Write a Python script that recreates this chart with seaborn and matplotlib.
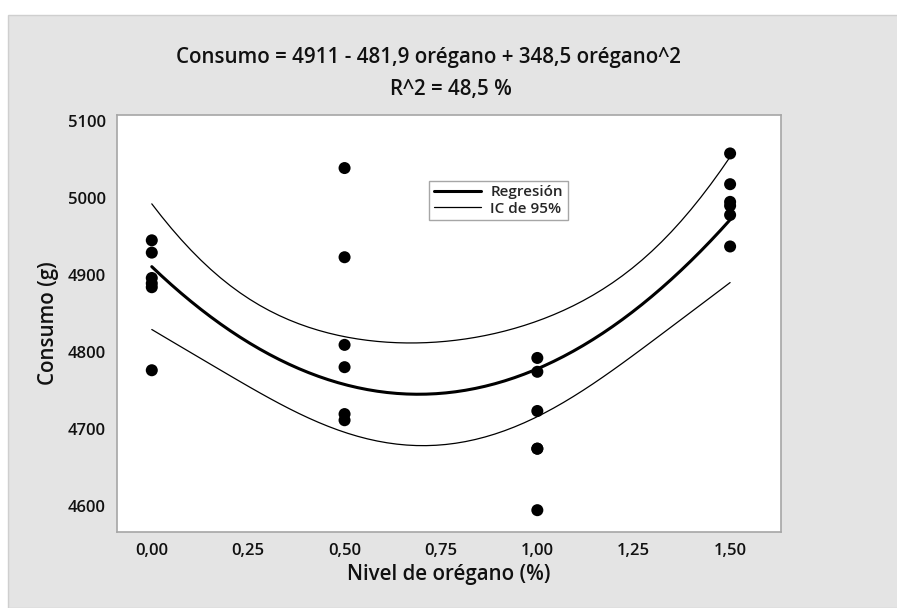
import numpy as np
import pandas as pd
import matplotlib
matplotlib.use("Agg")
import matplotlib.pyplot as plt
import seaborn as sns
from matplotlib.lines import Line2D
from matplotlib.patches import Rectangle

# ---- data ----
oregano = [0.0]*6 + [0.5]*6 + [1.0]*6 + [1.5]*6
consumo = [4945, 4929, 4896, 4889, 4884, 4776,
           5039, 4923, 4809, 4780, 4719, 4711,
           4792, 4774, 4723, 4674, 4674, 4594,
           5058, 5018, 4995, 4990, 4978, 4937]
x_ticks = [0.0, 0.25, 0.5, 0.75, 1.0, 1.25, 1.5]
x_tick_labels = ["0,00", "0,25", "0,50", "0,75", "1,00", "1,25", "1,50"]
y_ticks = [4600, 4700, 4800, 4900, 5000, 5100]
title_line1 = "Consumo = 4911 - 481,9 orégano + 348,5 orégano^2"
title_line2 = "R^2 = 48,5 %"
t_crit = 2.0796  # t(0.975, df=21)

df = pd.DataFrame({"oregano": oregano, "consumo": consumo})

# quadratic fit and 95% CI for the mean response
x = np.asarray(oregano, float)
y = np.asarray(consumo, float)
X = np.column_stack([np.ones_like(x), x, x**2])
beta, *_ = np.linalg.lstsq(X, y, rcond=None)
resid = y - X @ beta
s2 = resid @ resid / (len(y) - 3)
XtX_inv = np.linalg.inv(X.T @ X)
xg = np.linspace(0, 1.5, 60)
Xg = np.column_stack([np.ones_like(xg), xg, xg**2])
yhat = Xg @ beta
se = np.sqrt(s2 * np.einsum("ij,jk,ik->i", Xg, XtX_inv, Xg))
fit = pd.DataFrame({"x": xg, "fit": yhat, "lo": yhat - t_crit*se, "hi": yhat + t_crit*se})

sns.set_style("white")
plt.rcParams["font.family"] = ["Open Sans", "DejaVu Sans"]

fig = plt.figure(figsize=(8.97, 6.08), dpi=100)
fig.patch.set_facecolor("white")
# gray panel
fig.patches.append(Rectangle((8/897, 0), 1, 1 - 15/608, transform=fig.transFigure,
                             facecolor="#e4e4e4", edgecolor="#cfcfcf", linewidth=1.0, zorder=-10))

ax = fig.add_axes([116.7/897, 1 - 531.7/608, (781 - 116.7)/897, (531.7 - 115)/608])
ax.set_facecolor("white")

sns.lineplot(data=fit, x="x", y="hi", ax=ax, color="black", linewidth=0.9)
sns.lineplot(data=fit, x="x", y="lo", ax=ax, color="black", linewidth=0.9)
sns.lineplot(data=fit, x="x", y="fit", ax=ax, color="black", linewidth=2.2)
sns.scatterplot(data=df, x="oregano", y="consumo", ax=ax, color="black", s=75,
                edgecolor="none", zorder=5)

ax.set_xlim(-0.091, 1.632)
ax.set_ylim(4566, 5108)
ax.set_xticks(x_ticks)
ax.set_xticklabels(x_tick_labels)
ax.set_yticks(y_ticks)
for sp in ax.spines.values():
    sp.set_color("#a6a6a6")
    sp.set_linewidth(1.2)
ax.tick_params(axis="both", direction="out", length=5, width=1.2, color="#a6a6a6",
               labelsize=12, pad=3, labelcolor="#111111")
for lab in ax.get_xticklabels() + ax.get_yticklabels():
    lab.set_fontweight("semibold")

ax.set_xlabel("Nivel de orégano (%)", fontsize=14.8, fontweight="semibold", color="#111111", labelpad=4)
ax.set_ylabel("Consumo (g)", fontsize=14.8, fontweight="semibold", color="#111111", labelpad=6)

fig.text(428/897, 1 - 57/608, title_line1, ha="center", va="center",
         fontsize=14.8, fontweight="semibold", color="#111111")
fig.text(451/897, 1 - 90/608, title_line2, ha="center", va="center",
         fontsize=14.8, fontweight="semibold", color="#111111")

handles = [Line2D([], [], color="black", linewidth=2.2),
           Line2D([], [], color="black", linewidth=0.9)]
leg = ax.legend(handles, ["Regresión", "IC de 95%"], loc="upper left",
                bbox_to_anchor=(0.4706, 0.8423), fancybox=False, framealpha=1,
                edgecolor="#a6a6a6", prop={"size": 11, "weight": "semibold"},
                handlelength=3.1, handletextpad=0.6, borderpad=0.3, labelspacing=0.15,
                borderaxespad=0)
leg.get_frame().set_linewidth(1.0)

fig.savefig("out.png", dpi=100)
